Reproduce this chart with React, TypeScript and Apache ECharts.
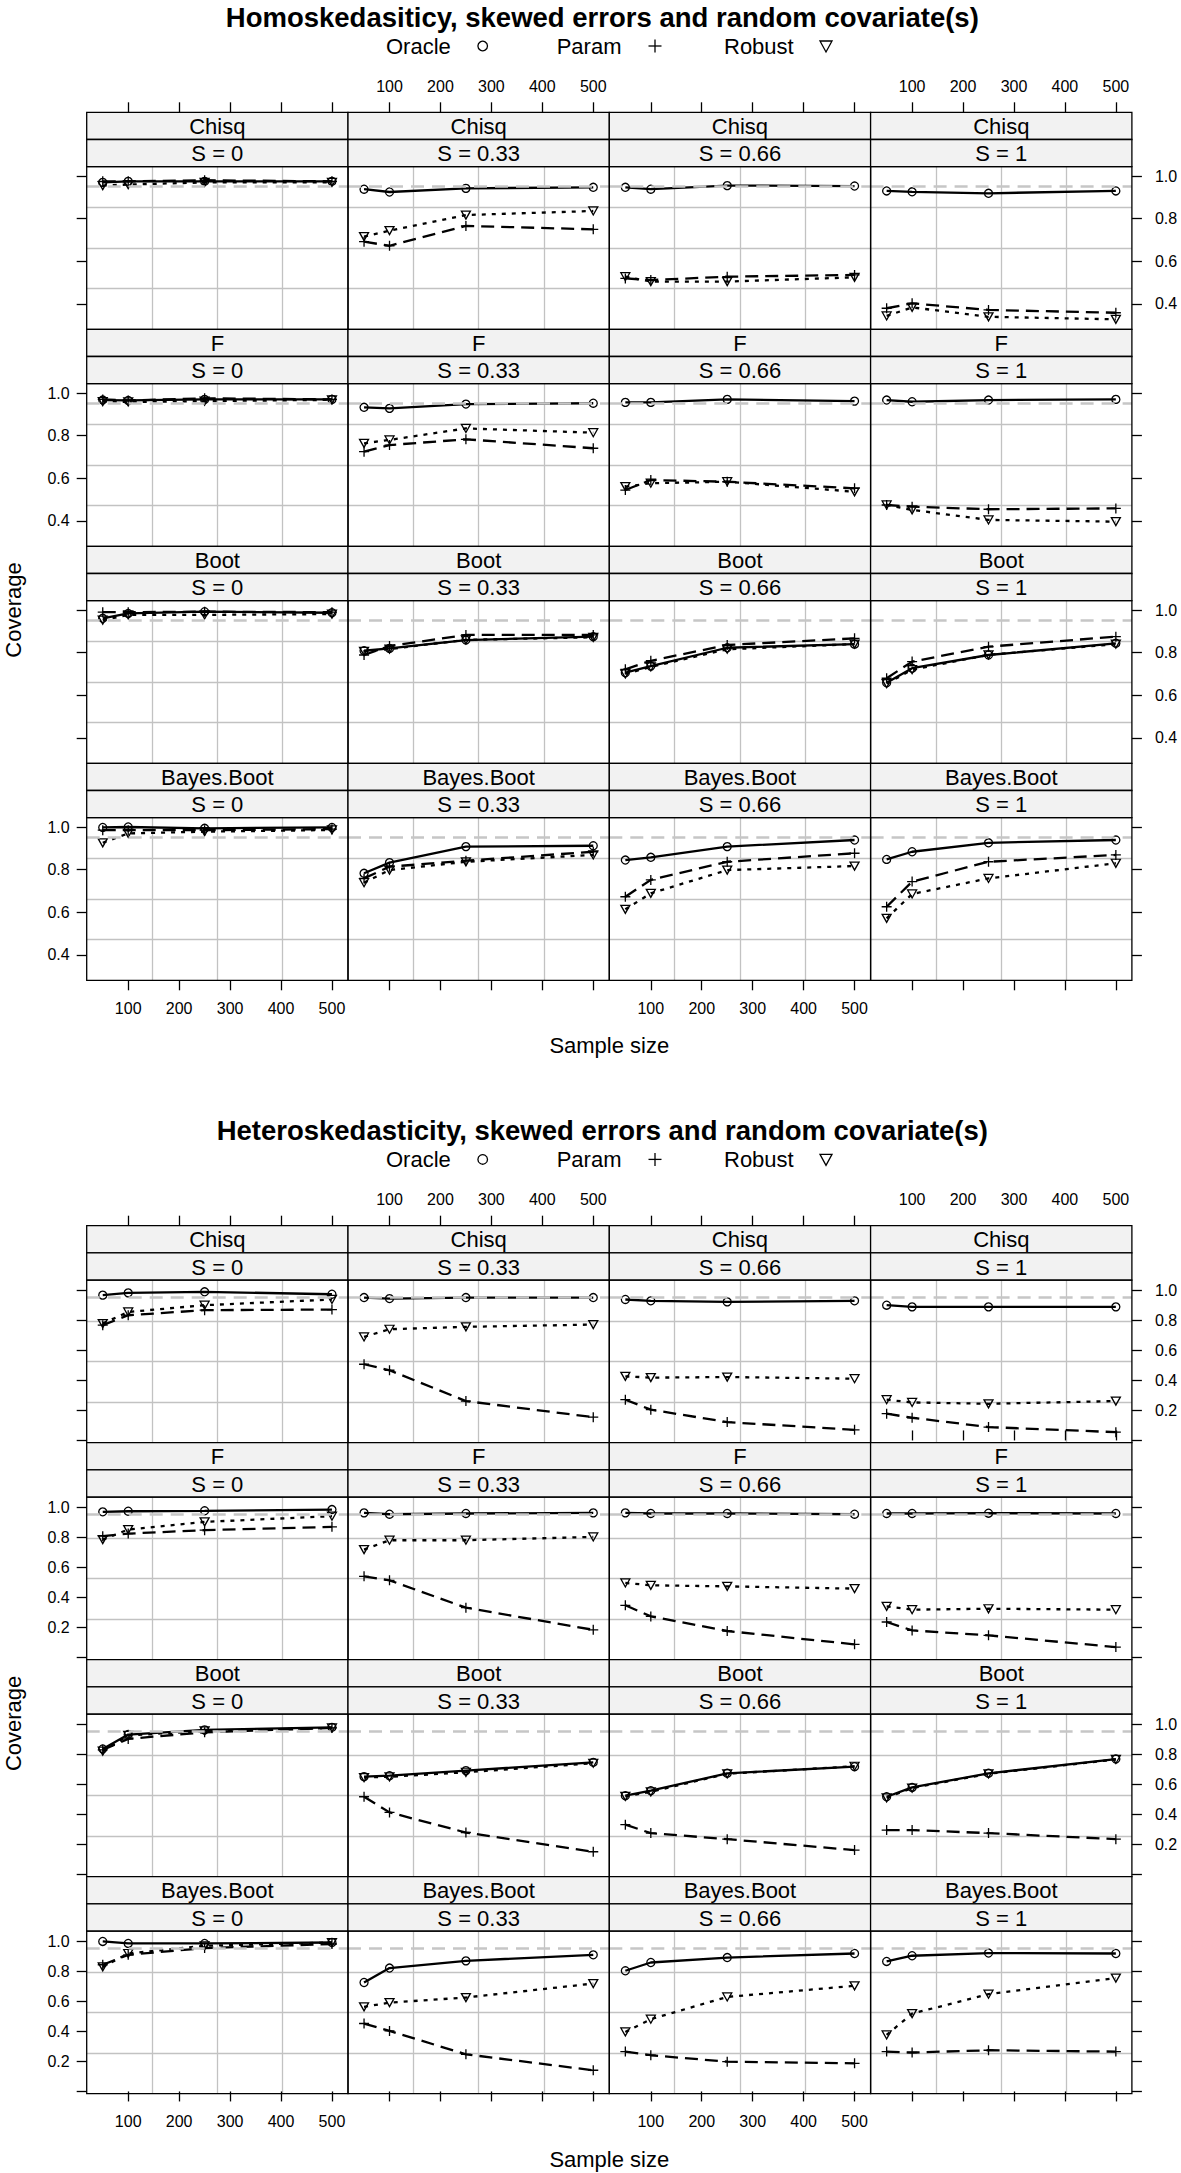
import React, { useEffect, useRef } from "react";
import * as echarts from "echarts";

const FONT = "'Liberation Sans', Arial, Helvetica, sans-serif";

// ---------- categories / labels ----------
const SAMPLE_SIZES = [50, 100, 250, 500];
const X_TICKS = [100, 200, 300, 400, 500];
const METHODS = ["Chisq", "F", "Boot", "Bayes.Boot"];
const S_LABELS = ["S = 0", "S = 0.33", "S = 0.66", "S = 1"];
const ESTIMATORS = ["Oracle", "Param", "Robust"];
const NOMINAL = 0.95;
const TITLES = [
  "Homoskedasiticy, skewed errors and random covariate(s)",
  "Heteroskedasticity, skewed errors and random covariate(s)",
];
const X_TITLE = "Sample size";
const Y_TITLE = "Coverage";

const X_LIMITS = [18.5, 531.5];
const HOMO_Y_LIMITS = [0.2813, 1.0436];
const HETERO_Y_LIMITS = [-0.015, 1.067];
const HOMO_Y_TICKS = [0.4, 0.6, 0.8, 1.0];
const HOMO_Y_LABELS = [0.4, 0.6, 0.8, 1.0];
const HETERO_Y_TICKS = [0, 0.2, 0.4, 0.6, 0.8, 1.0];
const HETERO_Y_LABELS = [0.2, 0.4, 0.6, 0.8, 1.0];

// ---------- data: each array is [S=0, S=0.33, S=0.66, S=1] x sample sizes ----------
// Homoskedasticity
const HOMO_CHISQ_ORACLE = [[0.97, 0.975, 0.975, 0.975], [0.938, 0.925, 0.942, 0.947], [0.947, 0.938, 0.955, 0.953], [0.93, 0.926, 0.919, 0.93]];
const HOMO_CHISQ_PARAM = [[0.975, 0.975, 0.98, 0.975], [0.692, 0.673, 0.766, 0.75], [0.52, 0.512, 0.528, 0.536], [0.38, 0.403, 0.372, 0.359]];
const HOMO_CHISQ_ROBUST = [[0.955, 0.96, 0.97, 0.97], [0.716, 0.744, 0.817, 0.836], [0.528, 0.505, 0.505, 0.525], [0.344, 0.384, 0.34, 0.328]];

const HOMO_F_ORACLE = [[0.967, 0.965, 0.97, 0.97], [0.933, 0.928, 0.948, 0.952], [0.956, 0.956, 0.97, 0.962], [0.967, 0.959, 0.967, 0.97]];
const HOMO_F_PARAM = [[0.97, 0.965, 0.975, 0.97], [0.725, 0.756, 0.783, 0.741], [0.545, 0.592, 0.584, 0.553], [0.475, 0.467, 0.455, 0.459]];
const HOMO_F_ROBUST = [[0.96, 0.958, 0.962, 0.968], [0.764, 0.78, 0.834, 0.814], [0.561, 0.577, 0.584, 0.537], [0.475, 0.452, 0.405, 0.397]];

const HOMO_BOOT_ORACLE = [[0.961, 0.984, 0.992, 0.987], [0.809, 0.82, 0.859, 0.875], [0.706, 0.737, 0.823, 0.84], [0.659, 0.727, 0.789, 0.844]];
const HOMO_BOOT_PARAM = [[0.99, 0.99, 0.992, 0.99], [0.789, 0.831, 0.883, 0.883], [0.722, 0.762, 0.836, 0.867], [0.68, 0.758, 0.828, 0.875]];
const HOMO_BOOT_ROBUST = [[0.953, 0.977, 0.977, 0.981], [0.806, 0.817, 0.86, 0.872], [0.7, 0.733, 0.816, 0.84], [0.655, 0.72, 0.79, 0.84]];

const HOMO_BB_ORACLE = [[0.998, 1.0, 0.994, 0.998], [0.783, 0.833, 0.908, 0.912], [0.845, 0.858, 0.908, 0.939], [0.848, 0.884, 0.926, 0.939]];
const HOMO_BB_PARAM = [[0.985, 0.985, 0.985, 0.99], [0.759, 0.814, 0.842, 0.884], [0.673, 0.752, 0.837, 0.877], [0.626, 0.744, 0.837, 0.869]];
const HOMO_BB_ROBUST = [[0.926, 0.97, 0.978, 0.986], [0.739, 0.798, 0.837, 0.869], [0.614, 0.689, 0.798, 0.817], [0.572, 0.686, 0.759, 0.83]];

// Heteroskedasticity
const HET_CHISQ_ORACLE = [[0.967, 0.982, 0.989, 0.973], [0.951, 0.944, 0.951, 0.951], [0.938, 0.929, 0.922, 0.929], [0.9, 0.889, 0.889, 0.889]];
const HET_CHISQ_PARAM = [[0.767, 0.833, 0.867, 0.871], [0.507, 0.467, 0.262, 0.155], [0.271, 0.205, 0.122, 0.071], [0.178, 0.151, 0.089, 0.055]];
const HET_CHISQ_ROBUST = [[0.778, 0.855, 0.9, 0.938], [0.689, 0.74, 0.756, 0.771], [0.427, 0.418, 0.422, 0.411], [0.271, 0.253, 0.244, 0.262]];

const HET_F_ORACLE = [[0.969, 0.973, 0.976, 0.984], [0.962, 0.953, 0.958, 0.962], [0.962, 0.958, 0.958, 0.953], [0.958, 0.958, 0.96, 0.958]];
const HET_F_PARAM = [[0.807, 0.824, 0.847, 0.869], [0.54, 0.513, 0.331, 0.184], [0.347, 0.273, 0.176, 0.087], [0.236, 0.18, 0.147, 0.069]];
const HET_F_ROBUST = [[0.784, 0.851, 0.902, 0.94], [0.718, 0.78, 0.78, 0.802], [0.496, 0.48, 0.473, 0.458], [0.34, 0.318, 0.324, 0.318]];

const HET_BOOT_ORACLE = [[0.835, 0.931, 0.962, 0.979], [0.651, 0.657, 0.691, 0.746], [0.524, 0.557, 0.673, 0.717], [0.517, 0.579, 0.673, 0.768]];
const HET_BOOT_PARAM = [[0.829, 0.902, 0.946, 0.975], [0.517, 0.413, 0.279, 0.151], [0.331, 0.275, 0.235, 0.162], [0.295, 0.295, 0.275, 0.235]];
const HET_BOOT_ROBUST = [[0.82, 0.925, 0.955, 0.975], [0.645, 0.65, 0.68, 0.74], [0.52, 0.55, 0.67, 0.72], [0.51, 0.575, 0.67, 0.765]];

const HET_BB_ORACLE = [[0.998, 0.985, 0.985, 0.991], [0.725, 0.821, 0.869, 0.909], [0.803, 0.858, 0.891, 0.918], [0.865, 0.903, 0.921, 0.918]];
const HET_BB_PARAM = [[0.843, 0.909, 0.954, 0.981], [0.452, 0.403, 0.247, 0.141], [0.265, 0.241, 0.198, 0.187], [0.265, 0.259, 0.274, 0.265]];
const HET_BB_ROBUST = [[0.829, 0.918, 0.969, 0.991], [0.563, 0.591, 0.625, 0.718], [0.396, 0.481, 0.629, 0.703], [0.376, 0.518, 0.647, 0.754]];

const FIGURES = [
  {
    title: TITLES[0],
    yLimits: HOMO_Y_LIMITS,
    yTicks: HOMO_Y_TICKS,
    yLabels: HOMO_Y_LABELS,
    data: [
      [HOMO_CHISQ_ORACLE, HOMO_CHISQ_PARAM, HOMO_CHISQ_ROBUST],
      [HOMO_F_ORACLE, HOMO_F_PARAM, HOMO_F_ROBUST],
      [HOMO_BOOT_ORACLE, HOMO_BOOT_PARAM, HOMO_BOOT_ROBUST],
      [HOMO_BB_ORACLE, HOMO_BB_PARAM, HOMO_BB_ROBUST],
    ],
  },
  {
    title: TITLES[1],
    yLimits: HETERO_Y_LIMITS,
    yTicks: HETERO_Y_TICKS,
    yLabels: HETERO_Y_LABELS,
    data: [
      [HET_CHISQ_ORACLE, HET_CHISQ_PARAM, HET_CHISQ_ROBUST],
      [HET_F_ORACLE, HET_F_PARAM, HET_F_ROBUST],
      [HET_BOOT_ORACLE, HET_BOOT_PARAM, HET_BOOT_ROBUST],
      [HET_BB_ORACLE, HET_BB_PARAM, HET_BB_ROBUST],
    ],
  },
];

// ---------- layout / style ----------
const W = 1181;
const H = 2173;
const COL_LEFT = 86.7;
const COL_W = 261.3;
const STRIP_H = 27.2;
const ROW_PITCH = 217;
const PANEL_H = 162.6;
const FIG_SHIFT = [0, 1113.4];
const FIRST_STRIP_TOP = 112.3;
const CENTER_X = COL_LEFT + 2 * COL_W;
const TICK_LEN = 10;
const GRID_COLOR = "#c2c2c2";
const REF_COLOR = "#c6c6c6";
const STRIP_BG = "#f2f2f2";

const SYMBOLS = ["circle", "path://M0,5L10,5M5,0L5,10", "path://M0,0L10,0L5,8.66Z"];
const SYMBOL_SIZES: any[] = [8, 10, [9, 8]];
const LINE_TYPES: any[] = ["solid", [13, 7], [4, 6]];

function buildOption() {
  const grid: any[] = [];
  const xAxis: any[] = [];
  const yAxis: any[] = [];
  const series: any[] = [];
  const graphic: any[] = [];

  const tickStyle = { color: "#000", width: 1.3 };
  const labelStyle = { fontSize: 16, color: "#000", fontFamily: FONT };

  FIGURES.forEach((fig, f) => {
    const shift = FIG_SHIFT[f];
    // title
    graphic.push({
      type: "text", z: 100, x: CENTER_X - 7, y: 17 + shift,
      style: { text: fig.title, fill: "#000", fontSize: 27.5, fontWeight: "bold", fontFamily: FONT, textAlign: "center", textVerticalAlign: "middle" },
    });
    // legend (text then symbol)
    const ly = 46 + shift;
    const legendX = [386, 556.7, 724];
    ESTIMATORS.forEach((name, i) => {
      graphic.push({
        type: "text", z: 100, x: legendX[i], y: ly,
        style: { text: name, fill: "#000", fontSize: 22, fontFamily: FONT, textAlign: "left", textVerticalAlign: "middle" },
      });
    });
    graphic.push({ type: "circle", z: 100, shape: { cx: 482.7, cy: ly, r: 4.8 }, style: { fill: "none", stroke: "#000", lineWidth: 1.3 } });
    graphic.push({ type: "line", z: 100, shape: { x1: 648.5, y1: ly, x2: 661.5, y2: ly }, style: { stroke: "#000", lineWidth: 1.3 } });
    graphic.push({ type: "line", z: 100, shape: { x1: 655, y1: ly - 6.5, x2: 655, y2: ly + 6.5 }, style: { stroke: "#000", lineWidth: 1.3 } });
    graphic.push({
      type: "polygon", z: 100,
      shape: { points: [[820, ly - 5], [832, ly - 5], [826, ly + 6]] },
      style: { fill: "none", stroke: "#000", lineWidth: 1.3 },
    });
    // axis titles
    graphic.push({
      type: "text", z: 100, x: CENTER_X, y: 1045.7 + shift,
      style: { text: X_TITLE, fill: "#000", fontSize: 22, fontFamily: FONT, textAlign: "center", textVerticalAlign: "middle" },
    });
    graphic.push({
      type: "text", z: 100, x: 13, y: 610 + shift, rotation: Math.PI / 2,
      style: { text: Y_TITLE, fill: "#000", fontSize: 22, fontFamily: FONT, textAlign: "center", textVerticalAlign: "middle" },
    });

    for (let r = 0; r < 4; r++) {
      for (let c = 0; c < 4; c++) {
        const stripTop = FIRST_STRIP_TOP + shift + r * ROW_PITCH;
        const panelTop = stripTop + 2 * STRIP_H;
        const left = COL_LEFT + c * COL_W;
        const gi = grid.length;
        grid.push({ left, top: panelTop, width: COL_W, height: PANEL_H, show: false });

        // strips
        [METHODS[r], S_LABELS[c]].forEach((txt, k) => {
          graphic.push({
            type: "rect", z: 50,
            shape: { x: left, y: stripTop + k * STRIP_H, width: COL_W, height: STRIP_H },
            style: { fill: STRIP_BG, stroke: "#000", lineWidth: 1.3 },
          });
          graphic.push({
            type: "text", z: 60, x: left + COL_W / 2, y: stripTop + k * STRIP_H + STRIP_H / 2 + 0.5,
            style: { text: txt, fill: "#000", fontSize: 22, fontFamily: FONT, textAlign: "center", textVerticalAlign: "middle" },
          });
        });
        // panel border
        graphic.push({
          type: "rect", z: 50,
          shape: { x: left, y: panelTop, width: COL_W, height: PANEL_H },
          style: { fill: "none", stroke: "#000", lineWidth: 1.3 },
        });

        const isBottom = r === 3;
        const isTop = r === 0;
        // data x axis (bottom)
        const dataX = xAxis.length;
        xAxis.push({
          gridIndex: gi, type: "value", min: X_LIMITS[0], max: X_LIMITS[1], position: "bottom",
          show: isBottom,
          axisLine: { show: false },
          axisTick: { show: true, customValues: X_TICKS, length: TICK_LEN, lineStyle: tickStyle },
          axisLabel: { show: c % 2 === 0, customValues: X_TICKS, margin: 20, ...labelStyle },
          splitLine: { show: false },
        });
        // grid x axis
        xAxis.push({
          gridIndex: gi, type: "value", min: 0, max: 4, interval: 1, position: "bottom",
          axisLine: { show: false }, axisTick: { show: false }, axisLabel: { show: false },
          splitLine: { show: true, showMinLine: false, showMaxLine: false, lineStyle: { color: GRID_COLOR, width: 1.3 } },
        });
        if (isTop) {
          xAxis.push({
            gridIndex: gi, type: "value", min: X_LIMITS[0], max: X_LIMITS[1], position: "top",
            offset: 2 * STRIP_H,
            axisLine: { show: false },
            axisTick: { show: true, customValues: X_TICKS, length: TICK_LEN, lineStyle: tickStyle },
            axisLabel: { show: c % 2 === 1, customValues: X_TICKS, margin: 18, ...labelStyle },
            splitLine: { show: false },
          });
        }
        // data y axis (left)
        const dataY = yAxis.length;
        yAxis.push({
          gridIndex: gi, type: "value", min: fig.yLimits[0], max: fig.yLimits[1], position: "left",
          show: c === 0,
          axisLine: { show: false },
          axisTick: { show: true, customValues: fig.yTicks, length: TICK_LEN, lineStyle: tickStyle },
          axisLabel: {
            show: r % 2 === 1, customValues: fig.yLabels, margin: 17, ...labelStyle,
            formatter: (v: number) => v.toFixed(1),
          },
          splitLine: { show: false },
        });
        yAxis.push({
          gridIndex: gi, type: "value", min: 0, max: 4, interval: 1, position: "left",
          axisLine: { show: false }, axisTick: { show: false }, axisLabel: { show: false },
          splitLine: { show: true, showMinLine: false, showMaxLine: false, lineStyle: { color: GRID_COLOR, width: 1.3 } },
        });
        if (c === 3) {
          yAxis.push({
            gridIndex: gi, type: "value", min: fig.yLimits[0], max: fig.yLimits[1], position: "right",
            axisLine: { show: false },
            axisTick: { show: true, customValues: fig.yTicks, length: TICK_LEN, lineStyle: tickStyle },
            axisLabel: {
              show: r % 2 === 0, customValues: fig.yLabels, margin: 23, ...labelStyle,
              formatter: (v: number) => v.toFixed(1),
            },
            splitLine: { show: false },
          });
        }

        // data series
        ESTIMATORS.forEach((name, e) => {
          const vals = fig.data[r][e][c];
          series.push({
            type: "line", name, xAxisIndex: dataX, yAxisIndex: dataY, z: 2, silent: true,
            data: SAMPLE_SIZES.map((n, i) => [n, vals[i]]),
            symbol: SYMBOLS[e], symbolSize: SYMBOL_SIZES[e], showSymbol: true,
            lineStyle: { color: "#000", width: 2.3, type: LINE_TYPES[e] },
            itemStyle: { color: "rgba(0,0,0,0)", borderColor: "#000", borderWidth: 1.3 },
          });
        });
        // nominal reference line (drawn on top, as in the original)
        series.push({
          type: "line", xAxisIndex: dataX, yAxisIndex: dataY, z: 3, silent: true, data: [],
          markLine: {
            silent: true, symbol: ["none", "none"], label: { show: false },
            lineStyle: { color: REF_COLOR, type: [13, 8], width: 2.6 },
            data: [{ yAxis: NOMINAL }],
          },
        });
      }
    }
  });

  return { animation: false, backgroundColor: "#fff", grid, xAxis, yAxis, series, graphic };
}

export default function App() {
  const ref = useRef<HTMLDivElement>(null);
  useEffect(() => {
    if (!ref.current) return;
    const chart = echarts.init(ref.current, undefined, { renderer: "svg" });
    chart.setOption(buildOption() as any);
    return () => chart.dispose();
  }, []);
  return (
    <div
      ref={ref}
      style={{ position: "absolute", left: 0, top: 0, width: W, height: H, background: "#fff" }}
    />
  );
}
